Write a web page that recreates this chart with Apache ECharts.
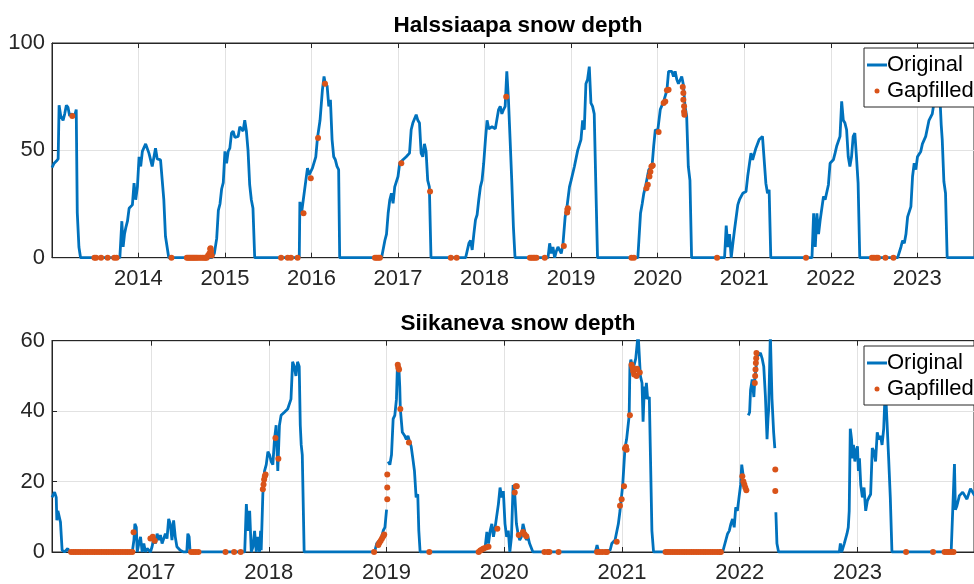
<!DOCTYPE html>
<html>
<head>
<meta charset="utf-8">
<script src="https://cdn.jsdelivr.net/npm/echarts@6/dist/echarts.min.js"></script>
<style>html,body{margin:0;padding:0;background:#fff;}#c{width:974px;height:584px;}</style>
</head>
<body>
<div id="c"></div>
<script>
// x values are decimal years
const titles = ['Halssiaapa snow depth', 'Siikaneva snow depth'];
const legendNames = ['Original', 'Gapfilled'];

const halOriginal = [
[2013.002,42],[2013.027,44],[2013.053,45],[2013.073,46],[2013.084,71],[2013.103,66],[2013.130,64],[2013.149,67],[2013.168,71],[2013.187,70],[2013.206,66],[2013.225,67],[2013.263,66],[2013.282,69],[2013.294,21],[2013.313,5],[2013.332,0],
[2013.786,0],[2013.809,17],[2013.824,5],[2013.840,11],[2013.855,14],[2013.874,17],[2013.893,23],[2013.931,24.6],[2013.950,34.7],[2013.969,27],[2013.989,33],[2014.008,47],[2014.027,42.5],[2014.046,49.5],[2014.084,53],[2014.122,48.7],[2014.160,42.5],[2014.198,51],[2014.218,46],[2014.256,45.6],[2014.275,45],[2014.294,27],[2014.313,10],[2014.332,5],[2014.351,0],
[2014.847,0],[2014.878,2],[2014.905,9],[2014.924,22],[2014.943,25],[2014.962,32],[2014.981,35],[2015.000,49.5],[2015.019,44],[2015.038,49.5],[2015.057,51],[2015.076,58],[2015.095,59],[2015.115,56],[2015.153,56.5],[2015.172,61],[2015.210,59],[2015.229,64],[2015.248,59],[2015.267,50],[2015.286,34],[2015.305,27],[2015.324,23],[2015.344,0],
[2015.859,0],[2015.866,26],[2015.885,20.7],[2015.935,36],[2015.954,41.7],[2015.973,38.6],[2016.011,41.7],[2016.050,47],[2016.069,55.7],[2016.099,64],[2016.126,78],[2016.145,84.4],[2016.160,81],[2016.181,80],[2016.200,70.5],[2016.219,73.5],[2016.238,55],[2016.257,47],[2016.276,45.6],[2016.295,42.5],[2016.314,41],[2016.326,0],
[2016.810,0],[2016.848,8],[2016.867,11],[2016.886,20.7],[2016.905,27],[2016.924,30],[2016.943,25.3],[2016.962,33],[2017.000,37.8],[2017.019,44],[2017.057,45.6],[2017.095,47],[2017.133,48.7],[2017.152,59.6],[2017.171,62.7],[2017.210,66.6],[2017.229,64],[2017.248,62.7],[2017.267,48.7],[2017.286,47],[2017.305,53],[2017.324,49.5],[2017.343,36],[2017.362,33],[2017.381,0],
[2017.781,0],[2017.819,6.7],[2017.838,8],[2017.857,3.6],[2017.876,11],[2017.895,17.6],[2017.914,20],[2017.933,27],[2017.952,33],[2017.971,36],[2017.990,44],[2018.010,55],[2018.029,64],[2018.048,60],[2018.086,61],[2018.124,60],[2018.162,69],[2018.181,70.5],[2018.200,67],[2018.219,69],[2018.238,70.5],[2018.257,86.8],[2018.276,73.5],[2018.295,55],[2018.314,36],[2018.333,14.5],[2018.352,0],
[2018.733,0],[2018.752,6.7],[2018.771,2],[2018.790,5],[2018.810,0],[2018.829,3],[2018.848,5],[2018.886,2],[2018.905,6],[2018.931,19],[2018.947,22],[2018.981,33],[2019.000,36],[2019.038,42.5],[2019.076,50],[2019.114,55],[2019.133,64],[2019.152,59.6],[2019.171,81],[2019.190,83],[2019.210,89],[2019.229,72],[2019.248,70.5],[2019.267,67],[2019.286,33],[2019.305,0],
[2019.771,0],[2019.783,8],[2019.802,20.7],[2019.821,25],[2019.840,30],[2019.859,33],[2019.897,41],[2019.935,42.5],[2019.954,52],[2019.973,59.6],[2020.000,58.8],[2020.030,69],[2020.069,72.8],[2020.107,78],[2020.126,86.8],[2020.164,86.8],[2020.183,84.4],[2020.202,86.8],[2020.221,83],[2020.240,81],[2020.278,84.4],[2020.297,80.6],[2020.316,70.5],[2020.335,66],[2020.354,42.5],[2020.373,36],[2020.392,0],
[2020.773,0],[2020.792,15],[2020.811,5],[2020.830,11],[2020.850,0],[2020.869,6.7],[2020.888,13],[2020.926,24.6],[2020.945,27],[2020.983,30],[2021.021,30.8],[2021.040,37.8],[2021.078,48.7],[2021.097,45.6],[2021.135,51],[2021.173,55],[2021.211,56.5],[2021.230,57.2],[2021.250,34.7],[2021.269,30],[2021.288,31.6],[2021.307,0],
[2021.783,0],[2021.802,20.7],[2021.821,5],[2021.840,20.7],[2021.859,11],[2021.878,17.6],[2021.916,28.5],[2021.935,27],[2021.973,34],[2021.992,44],[2022.030,45.6],[2022.050,48.7],[2022.069,52],[2022.107,56.5],[2022.126,72.8],[2022.145,64],[2022.164,62.7],[2022.183,59.6],[2022.202,47],[2022.221,42.5],[2022.240,47],[2022.259,56.5],[2022.278,58],[2022.297,47],[2022.316,34.7],[2022.335,0],
[2022.773,0],[2022.811,5],[2022.830,8],[2022.850,6.7],[2022.869,11],[2022.888,19],[2022.926,23.8],[2022.945,37.8],[2022.964,44],[2022.983,41],[2023.002,47],[2023.040,49.5],[2023.059,53],[2023.097,56.5],[2023.135,64],[2023.173,67],[2023.192,72],[2023.211,78],[2023.238,85],[2023.261,75],[2023.276,62],[2023.288,55],[2023.307,35.5],[2023.326,30],[2023.345,0],[2023.655,0]
];

const halGapfilled = [
[2013.237,66],[2013.492,0],[2013.511,0],[2013.569,0],[2013.645,0],[2013.721,0],[2013.748,0],[2014.382,0],
[2014.560,0],[2014.575,0],[2014.590,0],[2014.605,0],[2014.620,0],[2014.635,0],[2014.650,0],[2014.665,0],[2014.680,0],[2014.700,0],[2014.720,0],[2014.740,0],[2014.760,0],[2014.775,0],[2014.790,0],[2014.805,1],[2014.820,2],[2014.830,4],[2014.835,4.4],[2014.840,3],[2014.847,1],
[2015.649,0],[2015.725,0],[2015.763,0],[2015.840,0],[2015.908,20.7],[2015.992,37],[2016.076,55.7],[2016.156,81],
[2016.733,0],[2016.752,0],[2016.771,0],[2016.790,0],[2017.038,44],[2017.370,30.8],[2017.610,0],[2017.678,0],
[2018.250,75],[2018.524,0],[2018.543,0],[2018.562,0],[2018.580,0],[2018.600,0],[2018.695,0],
[2018.916,5.4],[2018.954,21],[2018.957,22.5],[2018.962,23],[2019.697,0],
[2019.726,0],[2019.870,32.3],[2019.886,34],[2019.905,37.8],[2019.916,40],[2019.928,42.5],[2019.943,43],[2020.011,58.5],[2020.069,72],[2020.088,72.8],[2020.107,78],[2020.126,78.2],[2020.290,79.5],[2020.297,76.7],[2020.297,73.6],[2020.305,70.5],[2020.305,68],[2020.309,66.6],
[2020.686,0],[2021.714,0],[2022.476,0],[2022.499,0],[2022.526,0],[2022.545,0],[2022.632,0],[2022.724,0]
];

const siiOriginal = [
[2016.158,15.5],[2016.166,16],[2016.180,17],[2016.194,15.5],[2016.199,9],[2016.208,11.7],[2016.222,12],[2016.230,8.5],[2016.244,0.5],[2016.264,0],[2016.292,1],[2016.306,0],
[2016.840,0],[2016.854,3.4],[2016.862,8],[2016.874,7],[2016.882,0],[2016.896,2.4],[2016.910,4.3],[2016.924,0],[2016.938,2.4],[2016.952,0],[2016.966,1],[2016.994,0],[2017.008,1.5],[2017.022,3.8],[2017.037,2.4],[2017.051,5.2],[2017.065,3.4],[2017.079,4.8],[2017.093,2.4],[2017.107,2.4],[2017.121,5.2],[2017.135,3.8],[2017.149,9.4],[2017.163,8],[2017.177,3.4],[2017.191,9],[2017.205,4.3],[2017.219,1.5],[2017.247,0.5],[2017.275,0],[2017.303,0],[2017.312,5.2],[2017.323,4.3],[2017.331,0],
[2017.795,0],[2017.809,13.6],[2017.823,6],[2017.837,11.7],[2017.851,0],[2017.865,1.5],[2017.879,6],[2017.893,0],[2017.907,4.3],[2017.921,0],[2017.930,6],[2017.935,0.5],[2017.949,16.4],[2017.963,23],[2017.978,24.8],[2017.992,28.5],[2018.006,27.6],[2018.020,25.7],[2018.034,24.8],[2018.048,32],[2018.062,36],[2018.076,23],[2018.090,36],[2018.104,38.8],[2018.132,39.7],[2018.160,40.6],[2018.174,41],[2018.188,43.4],[2018.202,54],[2018.216,52.7],[2018.230,50],[2018.244,54],[2018.258,52.7],[2018.267,36],[2018.275,30.4],[2018.284,27.6],[2018.300,0],
[2018.874,0],[2018.902,0.5],[2018.916,2.4],[2018.944,3.4],[2018.958,4.3],[2018.972,6.1],[2018.986,7],[2019.000,12],[2019.006,null],[2019.014,25.7],[2019.028,24.8],[2019.042,27.6],[2019.056,37.8],[2019.070,38.8],[2019.084,43.4],[2019.092,52.7],[2019.103,53.5],[2019.112,47],[2019.117,40.6],[2019.134,34],[2019.154,33],[2019.168,32],[2019.182,33],[2019.196,31.3],[2019.209,30],[2019.223,26.6],[2019.237,23],[2019.251,15.5],[2019.265,16.4],[2019.274,6],[2019.285,0],
[2019.754,0],[2019.782,0],[2019.810,1],[2019.838,1.5],[2019.852,5.7],[2019.866,2.4],[2019.880,6],[2019.894,8],[2019.908,4.3],[2019.922,7],[2019.936,6.6],[2019.950,13.6],[2019.964,18.3],[2019.978,15.5],[2019.992,17.3],[2020.006,8],[2020.020,4.3],[2020.034,6.1],[2020.047,0],[2020.061,4.3],[2020.075,19],[2020.089,16.4],[2020.103,8],[2020.117,5.2],[2020.131,3.4],[2020.145,4.3],[2020.159,8],[2020.173,6],[2020.187,3.4],[2020.201,4.3],[2020.215,2.4],[2020.229,2.4],[2020.243,0],[2020.257,0.5],[2020.271,0],
[2020.774,0],[2020.788,2],[2020.802,0],[2020.899,0.5],[2020.913,2.4],[2020.927,2],[2020.941,3.4],[2020.955,3],[2020.969,8],[2020.983,11.7],[2021.006,19],[2021.025,29.5],[2021.039,32],[2021.053,32],[2021.061,38.8],[2021.067,52.7],[2021.075,54.6],[2021.095,52],[2021.117,55],[2021.137,62],[2021.142,62],[2021.156,50],[2021.170,48],[2021.179,37],[2021.190,47],[2021.198,43.4],[2021.207,48],[2021.218,43.4],[2021.232,44],[2021.240,30],[2021.254,6],[2021.268,0],
[2021.855,0],[2021.897,5.2],[2021.911,6],[2021.925,8],[2021.939,9.4],[2021.953,7],[2021.966,12.7],[2021.980,11.7],[2021.994,15.5],[2022.008,19.2],[2022.017,24.8],[2022.028,22],[2022.035,null],[2022.073,38.8],[2022.084,39.7],[2022.092,46],[2022.106,49],[2022.120,44],[2022.128,49],[2022.148,55.5],[2022.162,55.5],[2022.176,56.5],[2022.190,55],[2022.204,52.7],[2022.218,44.3],[2022.232,32],[2022.240,37.8],[2022.246,40.6],[2022.260,62],[2022.274,43.4],[2022.288,34],[2022.298,29.5],[2022.302,null],[2022.307,11.3],[2022.316,2.4],[2022.330,0],
[2022.846,0],[2022.855,2.4],[2022.866,0],[2022.888,2.4],[2022.911,5.2],[2022.922,7],[2022.930,11.7],[2022.939,35],[2022.950,32],[2022.958,26.6],[2022.966,30.4],[2022.978,25.7],[2022.986,28.5],[2023.000,30],[2023.008,23],[2023.017,26.6],[2023.028,19],[2023.042,15.5],[2023.056,18.3],[2023.070,11.7],[2023.084,14.5],[2023.098,15.5],[2023.112,16.4],[2023.126,29.5],[2023.140,28.5],[2023.154,25.7],[2023.168,34],[2023.182,32],[2023.196,33],[2023.209,30.4],[2023.223,35],[2023.237,47],[2023.251,37],[2023.265,26.6],[2023.279,15.5],[2023.293,0],
[2023.796,0],[2023.824,25],[2023.832,12],[2023.844,13],[2023.866,16],[2023.894,17],[2023.930,15],[2023.960,18],[2023.995,16]
];

const siiGapfilled = [
[2016.32,0],[2016.34,0],[2016.36,0],[2016.38,0],[2016.40,0],[2016.42,0],[2016.44,0],[2016.46,0],[2016.48,0],[2016.50,0],[2016.52,0],[2016.54,0],[2016.56,0],[2016.58,0],[2016.60,0],[2016.62,0],[2016.64,0],[2016.66,0],[2016.68,0],[2016.70,0],[2016.72,0],[2016.74,0],[2016.76,0],[2016.78,0],[2016.80,0],[2016.82,0],[2016.84,0],
[2016.851,5.6],[2016.994,3.8],[2017.014,4.3],[2017.031,3.2],[2017.340,0],[2017.360,0],[2017.379,0],[2017.402,0],[2017.632,0],[2017.705,0],[2017.761,0],
[2017.949,17.8],[2017.955,19.2],[2017.960,20.6],[2017.966,21.5],[2017.972,22],[2018.056,32.4],[2018.081,26.5],
[2018.894,0],[2018.930,2],[2018.939,2.6],[2018.950,3.2],[2018.961,3.8],[2018.972,4.5],[2018.980,5],[2019.006,15],[2019.006,18.3],[2019.006,22],[2019.095,53.2],[2019.100,52.3],[2019.106,51.8],[2019.117,40.6],[2019.190,31.1],[2019.363,0],
[2019.782,0],[2019.796,0.4],[2019.810,0.7],[2019.824,1],[2019.844,1.3],[2019.866,1.5],[2019.941,6.6],[2020.089,16.9],[2020.098,18.7],[2020.106,18.7],[2020.123,4.8],[2020.159,5.7],[2020.173,5],[2020.187,4.5],[2020.341,0],[2020.369,0],[2020.383,0],[2020.461,0],
[2020.788,0],[2020.810,0],[2020.832,0],[2020.858,0],[2020.872,0],[2020.955,2.9],[2020.983,13.1],[2020.997,15],[2021.017,18.7],[2021.025,29.4],[2021.034,29.9],[2021.039,29],[2021.067,38.8],[2021.081,53.2],[2021.089,52.3],[2021.095,51.3],[2021.103,50.4],[2021.112,51.8],[2021.123,50],[2021.128,52],[2021.151,51],
[2021.37,0],[2021.39,0],[2021.41,0],[2021.43,0],[2021.45,0],[2021.47,0],[2021.49,0],[2021.51,0],[2021.53,0],[2021.55,0],[2021.57,0],[2021.59,0],[2021.61,0],[2021.63,0],[2021.65,0],[2021.67,0],[2021.69,0],[2021.71,0],[2021.73,0],[2021.75,0],[2021.77,0],[2021.79,0],[2021.81,0],[2021.83,0],[2021.84,0],
[2022.022,21.5],[2022.031,20],[2022.039,19.2],[2022.047,18.3],[2022.056,17.5],[2022.128,48],[2022.131,50],[2022.134,51.8],[2022.137,53.7],[2022.140,55],[2022.142,56.5],[2022.302,23.4],[2022.302,17.3],
[2023.413,0],[2023.642,0],[2023.740,0],[2023.760,0],[2023.777,0],[2023.796,0],[2023.816,0]
];

const halXRange = [2013.002, 2023.655];
const siiXRange = [2016.158, 2023.99];
const halYTicks = [0, 100, 50];   // min, max, interval
const siiYTicks = [0, 60, 20];

const FONT = '"Liberation Sans", Arial, Helvetica, sans-serif';
const AX = '#262626';
const GRIDC = '#e2e2e2';
const BLUE = '#0072BD';
const ORANGE = '#D95319';
const FS = 22;

const chart = echarts.init(document.getElementById('c'), null, {renderer: 'canvas'});

function yearLabel(v) {
  return Math.abs(v - Math.round(v)) < 1e-6 ? String(Math.round(v)) : '';
}
function xAxes(gridIndex, range, splitNumber) {
  return [
    {
      type: 'value', gridIndex: gridIndex, position: 'bottom',
      min: range[0], max: range[1], splitNumber: splitNumber,
      axisLine: {show: true, onZero: false, lineStyle: {color: AX, width: 1}},
      axisTick: {show: true, inside: true, length: 5, lineStyle: {color: AX}},
      axisLabel: {show: true, formatter: yearLabel, color: AX, fontSize: FS, fontFamily: FONT, margin: 10, showMinLabel: false, showMaxLabel: false},
      splitLine: {show: true, lineStyle: {color: GRIDC, width: 1}}
    },
    {
      type: 'value', gridIndex: gridIndex, position: 'top',
      min: range[0], max: range[1], splitNumber: splitNumber,
      axisLine: {show: true, onZero: false, lineStyle: {color: AX, width: 1}},
      axisTick: {show: true, inside: true, length: 5, lineStyle: {color: AX}},
      axisLabel: {show: false},
      splitLine: {show: false}
    }
  ];
}
function yAxis(gridIndex, t) {
  return {
    type: 'value', gridIndex: gridIndex, min: t[0], max: t[1], interval: t[2],
    axisLine: {show: true, lineStyle: {color: AX, width: 1}},
    axisTick: {show: true, inside: true, length: 5, lineStyle: {color: AX}},
    axisLabel: {color: AX, fontSize: FS, fontFamily: FONT, margin: 7},
    splitLine: {show: true, lineStyle: {color: GRIDC, width: 1}}
  };
}
function legend(top) {
  return {
    orient: 'vertical', left: 864, top: top,
    itemWidth: 20, itemHeight: 5, itemGap: 4,
    padding: [6, 14, 5, 3],
    backgroundColor: '#ffffff', borderColor: AX, borderWidth: 1, borderRadius: 0,
    selectedMode: false,
    textStyle: {fontSize: FS, color: '#000', fontFamily: FONT, padding: [0, 0, 0, -5]},
    data: [
      {name: legendNames[0], icon: 'path://M0,0H20V3H0Z'},
      {name: legendNames[1], icon: 'circle'}
    ]
  };
}

const option = {
  animation: false,
  backgroundColor: '#ffffff',
  title: [
    {text: titles[0], left: 518, top: 14, textAlign: 'center', padding: 0,
     textStyle: {fontSize: 22.5, fontWeight: 'bold', color: '#000', fontFamily: FONT}},
    {text: titles[1], left: 518, top: 312, textAlign: 'center', padding: 0,
     textStyle: {fontSize: 22.5, fontWeight: 'bold', color: '#000', fontFamily: FONT}}
  ],
  grid: [
    {left: 52, top: 43, width: 932, height: 214.7, containLabel: false, show: true, borderColor: AX, borderWidth: 1, backgroundColor: '#fff'},
    {left: 52, top: 340.7, width: 932, height: 214.6, containLabel: false, show: true, borderColor: AX, borderWidth: 1, backgroundColor: '#fff'}
  ],
  xAxis: [].concat(xAxes(0, halXRange, 10), xAxes(1, siiXRange, 8)),
  yAxis: [yAxis(0, halYTicks), yAxis(1, siiYTicks)],
  legend: [legend(48), legend(346)],
  series: [
    {name: legendNames[0], type: 'line', xAxisIndex: 0, yAxisIndex: 0, data: halOriginal,
     showSymbol: false, symbol: 'none', connectNulls: false, lineStyle: {color: BLUE, width: 2.8}, itemStyle: {color: BLUE}, z: 2},
    {name: legendNames[1], type: 'scatter', xAxisIndex: 0, yAxisIndex: 0, data: halGapfilled,
     symbol: 'circle', symbolSize: 6, itemStyle: {color: ORANGE, opacity: 1}, z: 3},
    {name: legendNames[0], type: 'line', xAxisIndex: 2, yAxisIndex: 1, data: siiOriginal,
     showSymbol: false, symbol: 'none', connectNulls: false, lineStyle: {color: BLUE, width: 2.8}, itemStyle: {color: BLUE}, z: 2},
    {name: legendNames[1], type: 'scatter', xAxisIndex: 2, yAxisIndex: 1, data: siiGapfilled,
     symbol: 'circle', symbolSize: 6, itemStyle: {color: ORANGE, opacity: 1}, z: 3}
  ]
};
chart.setOption(option);
</script>
</body>
</html>
